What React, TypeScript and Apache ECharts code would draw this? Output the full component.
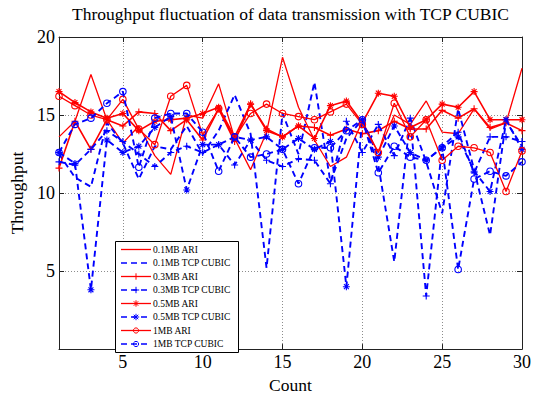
import React, { useEffect, useRef } from "react";
import * as echarts from "echarts";

const counts = [1, 2, 3, 4, 5, 6, 7, 8, 9, 10, 11, 12, 13, 14, 15, 16, 17, 18, 19, 20, 21, 22, 23, 24, 25, 26, 27, 28, 29, 30];
const xTickValues = [5, 10, 15, 20, 25, 30];

const ari01 = [13.6, 14.6, 17.6, 14.7, 13.2, 14.3, 12.4, 11.2, 15.0, 14.8, 17.0, 13.5, 11.5, 13.9, 18.7, 15.5, 13.4, 11.7, 12.3, 14.6, 12.6, 15.0, 14.4, 15.9, 13.9, 13.8, 15.4, 14.1, 14.5, 18.0];
const cubic01 = [12.5, 11.0, 10.4, 14.5, 13.2, 10.9, 13.0, 12.8, 14.3, 12.5, 14.0, 16.3, 13.8, 5.2, 15.1, 12.5, 17.1, 10.7, 13.5, 14.7, 11.8, 5.6, 14.8, 12.0, 8.7, 15.4, 11.5, 7.3, 14.6, 13.0];
const ari03 = [11.6, 14.6, 12.8, 14.7, 14.3, 15.2, 15.1, 14.0, 14.7, 13.4, 15.4, 13.3, 15.7, 14.1, 13.6, 14.3, 14.2, 13.7, 14.1, 13.8, 14.0, 14.6, 14.1, 14.1, 15.3, 14.8, 15.4, 14.2, 14.5, 14.0];
const cubic03 = [12.0, 11.8, 12.8, 14.0, 13.3, 12.5, 11.7, 12.6, 13.0, 12.6, 13.1, 11.8, 13.4, 12.1, 11.7, 12.2, 12.1, 10.6, 14.6, 12.6, 14.4, 12.4, 14.8, 3.4, 13.0, 13.9, 11.3, 13.6, 13.6, 13.3];
const ari05 = [16.5, 15.8, 15.2, 14.8, 15.1, 14.0, 14.6, 14.7, 14.8, 15.1, 15.5, 13.6, 15.7, 14.0, 13.6, 14.3, 13.5, 15.6, 15.9, 14.5, 16.4, 16.2, 14.2, 14.7, 15.7, 15.5, 16.5, 14.7, 14.7, 14.7];
const cubic05 = [12.6, 11.9, 3.8, 13.4, 12.6, 13.0, 14.2, 14.9, 10.2, 13.1, 13.1, 13.6, 13.4, 13.6, 12.8, 13.5, 12.8, 13.3, 4.0, 14.7, 12.3, 14.3, 12.6, 12.1, 12.9, 13.6, 11.4, 10.1, 14.7, 12.8];
const ari1 = [16.2, 15.6, 15.0, 14.7, 16.0, 14.1, 13.1, 16.2, 16.9, 13.7, 15.4, 13.5, 15.1, 15.7, 15.1, 14.9, 14.7, 15.2, 15.7, 14.4, 12.6, 15.75, 13.6, 14.7, 12.1, 13.0, 12.9, 12.6, 10.1, 12.7];
const cubic1 = [12.6, 14.4, 14.8, 15.75, 16.5, 11.65, 14.8, 15.1, 15.1, 13.9, 11.4, 13.6, 12.3, 12.5, 12.8, 10.6, 12.9, 12.9, 14.0, 14.7, 11.3, 13.0, 12.3, 12.1, 12.9, 5.1, 10.9, 11.4, 11.1, 12.0];

const seriesNames = [
  "0.1MB ARI",
  "0.1MB TCP CUBIC",
  "0.3MB ARI",
  "0.3MB TCP CUBIC",
  "0.5MB ARI",
  "0.5MB TCP CUBIC",
  "1MB ARI",
  "1MB TCP CUBIC",
];
const seriesValues = [ari01, cubic01, ari03, cubic03, ari05, cubic05, ari1, cubic1];
const seriesMarkers = ["none", "none", "plus", "plus", "star", "star", "circle", "circle"];

const RED = "#ff0000";
const BLUE = "#0000ff";
const FONT = "Liberation Serif";

const PLUS_PATH = "path://M0,-1L0,1M-1,0L1,0";
const STAR_PATH = "path://M0,-1L0,1M-1,0L1,0M-0.7,-0.7L0.7,0.7M-0.7,0.7L0.7,-0.7";
const CIRCLE_PATH = "path://M1,0A1,1,0,1,1,-1,0A1,1,0,1,1,1,0Z";

function symbolFor(m: string) {
  if (m === "plus") return PLUS_PATH;
  if (m === "star") return STAR_PATH;
  if (m === "circle") return CIRCLE_PATH;
  return "none";
}

function buildLegend(): any[] {
  const boxX = 115;
  const boxY = 241;
  const boxW = 123;
  const boxH = 111;
  const row0 = 249.5;
  const step = 13.5;
  const els: any[] = [
    {
      type: "rect",
      shape: { x: boxX + 0.5, y: boxY + 0.5, width: boxW, height: boxH },
      style: { fill: "#fff", stroke: "#000", lineWidth: 1 },
      z: 100,
    },
  ];
  seriesNames.forEach((name, i) => {
    const y = row0 + i * step;
    const isCubic = i % 2 === 1;
    const color = isCubic ? BLUE : RED;
    const lw = isCubic ? 1.6 : 1.3;
    els.push({
      type: "line",
      shape: { x1: 121, y1: y, x2: 151, y2: y },
      style: { stroke: color, lineWidth: lw, lineDash: isCubic ? [6, 4] : null },
      z: 101,
    });
    const m = seriesMarkers[i];
    const cx = 136;
    if (m === "circle") {
      els.push({ type: "circle", shape: { cx, cy: y, r: 2.6 }, style: { fill: "none", stroke: color, lineWidth: 1 }, z: 102 });
    } else if (m === "plus" || m === "star") {
      const r = 3.2;
      els.push({ type: "line", shape: { x1: cx - r, y1: y, x2: cx + r, y2: y }, style: { stroke: color, lineWidth: 1 }, z: 102 });
      els.push({ type: "line", shape: { x1: cx, y1: y - r, x2: cx, y2: y + r }, style: { stroke: color, lineWidth: 1 }, z: 102 });
      if (m === "star") {
        const d = r * 0.7;
        els.push({ type: "line", shape: { x1: cx - d, y1: y - d, x2: cx + d, y2: y + d }, style: { stroke: color, lineWidth: 1 }, z: 102 });
        els.push({ type: "line", shape: { x1: cx - d, y1: y + d, x2: cx + d, y2: y - d }, style: { stroke: color, lineWidth: 1 }, z: 102 });
      }
    }
    els.push({
      type: "text",
      x: 153,
      y,
      style: { text: name, fill: "#000", fontFamily: FONT, fontSize: 9.5, textAlign: "left", textVerticalAlign: "middle" },
      z: 102,
    });
  });
  return els;
}

export default function App() {
  const ref = useRef<HTMLDivElement>(null);
  useEffect(() => {
    if (!ref.current) return;
    const chart = echarts.init(ref.current, null, { renderer: "svg" });
    const series = seriesNames.map((name, i) => {
      const isCubic = i % 2 === 1;
      const color = isCubic ? BLUE : RED;
      const m = seriesMarkers[i];
      return {
        name,
        type: "line",
        data: counts.map((c, k) => [c, seriesValues[i][k]]),
        symbol: symbolFor(m),
        showSymbol: m !== "none",
        symbolSize: m === "circle" ? 6.5 : 7,
        lineStyle: {
          color,
          width: isCubic ? 1.9 : m === "plus" || m === "star" ? 1.6 : 1.3,
          type: isCubic ? [6, 4] : "solid",
        },
        itemStyle: { color: "transparent", borderColor: color, borderWidth: 1.1 },
        emphasis: { disabled: true },
        z: 2 + i,
      };
    });
    const dotted = { show: true, lineStyle: { color: "#8c8c8c", type: [1, 2], width: 1 } };
    chart.setOption({
      animation: false,
      backgroundColor: "#fff",
      textStyle: { fontFamily: FONT },
      title: {
        text: "Throughput fluctuation of data transmission with TCP CUBIC",
        left: 72,
        top: 5,
        padding: 0,
        textStyle: { fontFamily: FONT, fontSize: 17.5, fontWeight: "normal", color: "#000" },
      },
      grid: { left: 59, right: 21, top: 37, bottom: 42, show: false },
      xAxis: [
        {
          type: "value",
          min: 1,
          max: 30,
          position: "bottom",
          name: "Count",
          nameLocation: "middle",
          nameGap: 21,
          nameTextStyle: { fontFamily: FONT, fontSize: 17.5, color: "#000" },
          axisLine: { show: true, onZero: false, lineStyle: { color: "#222", width: 1 } },
          axisTick: { show: true, inside: true, length: 5, customValues: xTickValues, lineStyle: { color: "#222" } },
          axisLabel: { customValues: xTickValues, fontFamily: FONT, fontSize: 18, color: "#000", margin: 4 },
          splitLine: dotted,
        },
        {
          type: "value",
          min: 1,
          max: 30,
          position: "top",
          axisLine: { show: true, onZero: false, lineStyle: { color: "#222", width: 1 } },
          axisTick: { show: true, inside: true, length: 5, customValues: xTickValues, lineStyle: { color: "#222" } },
          axisLabel: { show: false },
          splitLine: { show: false },
        },
      ],
      yAxis: [
        {
          type: "value",
          min: 0,
          max: 20,
          interval: 5,
          position: "left",
          name: "Throughput",
          nameLocation: "middle",
          nameGap: 31,
          nameTextStyle: { fontFamily: FONT, fontSize: 17.5, color: "#000" },
          axisLine: { show: true, onZero: false, lineStyle: { color: "#222", width: 1 } },
          axisTick: { show: true, inside: true, length: 5, lineStyle: { color: "#222" } },
          axisLabel: { showMinLabel: false, fontFamily: FONT, fontSize: 18, color: "#000", margin: 4 },
          splitLine: dotted,
        },
        {
          type: "value",
          min: 0,
          max: 20,
          interval: 5,
          position: "right",
          axisLine: { show: true, onZero: false, lineStyle: { color: "#222", width: 1 } },
          axisTick: { show: true, inside: true, length: 5, lineStyle: { color: "#222" } },
          axisLabel: { show: false },
          splitLine: { show: false },
        },
      ],
      series,
      graphic: buildLegend(),
    });
    return () => chart.dispose();
  }, []);
  return (
    <div
      ref={ref}
      style={{ position: "fixed", left: 0, top: 0, width: 543, height: 399, background: "#fff" }}
    />
  );
}
